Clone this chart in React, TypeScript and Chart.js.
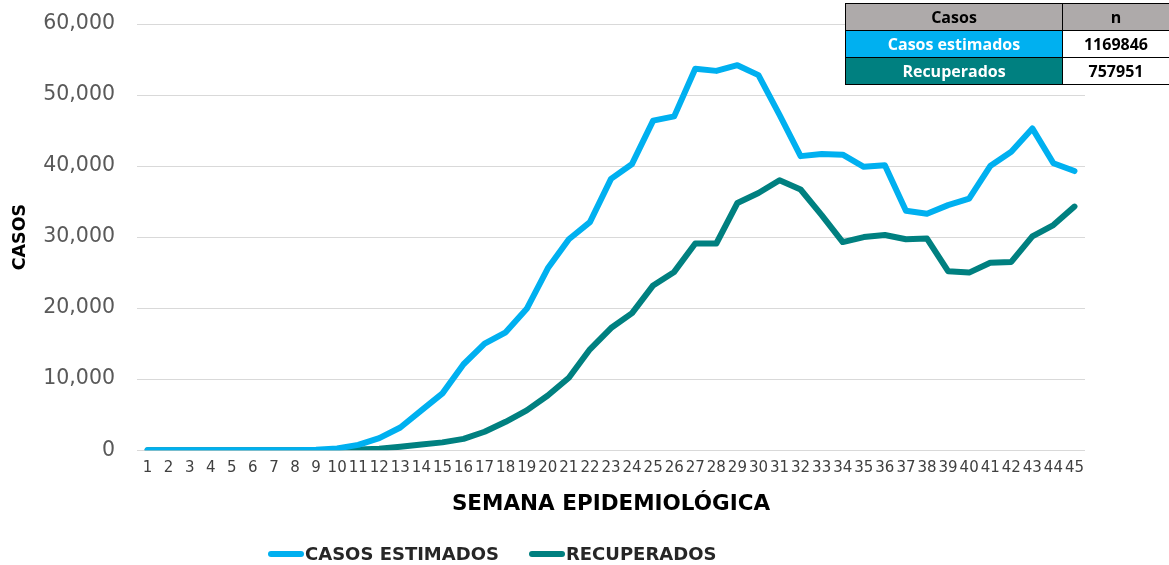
import React, { useEffect, useRef } from "react";
import { Chart, registerables } from "chart.js";

Chart.register(...registerables);

const weeks = Array.from({ length: 45 }, (_, i) => String(i + 1));
const casosEstimados = [
  0, 0, 0, 0, 0, 0, 0, 0, 50, 250, 750, 1700, 3200, 5600, 8000, 12100, 15000, 16600,
  19900, 25600, 29700, 32100, 38200, 40300, 46400, 47000, 53700, 53400, 54200, 52800,
  47200, 41400, 41700, 41600, 39900, 40100, 33700, 33300, 34500, 35400, 40000, 42000,
  45300, 40400, 39300,
];
const recuperados = [
  0, 0, 0, 0, 0, 0, 0, 0, 0, 50, 100, 200, 500, 800, 1100, 1600, 2600, 4000, 5600, 7700,
  10200, 14200, 17200, 19300, 23200, 25100, 29100, 29100, 34800, 36200, 38000, 36700,
  33100, 29300, 30000, 30300, 29700, 29800, 25200, 25000, 26400, 26500, 30100, 31700,
  34300,
];
const yTicks = [0, 10000, 20000, 30000, 40000, 50000, 60000];
const tableRows = [
  { label: "Casos estimados", n: "1169846", color: "#00B0F0" },
  { label: "Recuperados", n: "757951", color: "#008080" },
];
const seriesNames = ["CASOS ESTIMADOS", "RECUPERADOS"];
const seriesColors = ["#00B0F0", "#008080"];

export default function App() {
  const ref = useRef<HTMLCanvasElement | null>(null);
  useEffect(() => {
    document.body.style.margin = "0";
    if (!ref.current) return;
    const chart = new Chart(ref.current, {
      type: "line",
      data: {
        labels: weeks,
        datasets: [
          {
            label: seriesNames[0],
            data: casosEstimados,
            borderColor: seriesColors[0],
            backgroundColor: seriesColors[0],
            borderWidth: 6,
            pointRadius: 0,
            tension: 0,
            borderCapStyle: "round",
            borderJoinStyle: "round",
          },
          {
            label: seriesNames[1],
            data: recuperados,
            borderColor: seriesColors[1],
            backgroundColor: seriesColors[1],
            borderWidth: 6,
            pointRadius: 0,
            tension: 0,
            borderCapStyle: "round",
            borderJoinStyle: "round",
          },
        ],
      },
      options: {
        animation: false,
        responsive: false,
        maintainAspectRatio: false,
        layout: { padding: { left: 8, right: 84, top: 24, bottom: 48 } },
        plugins: {
          legend: { display: false },
          tooltip: { enabled: false },
        },
        scales: {
          x: {
            offset: true,
            grid: { display: false, drawTicks: false },
            border: { display: false },
            ticks: {
              autoSkip: false,
              maxRotation: 0,
              minRotation: 0,
              padding: 9,
              color: "#404040",
              font: { family: "DejaVu Sans", size: 15 },
            },
            title: {
              display: true,
              text: "SEMANA EPIDEMIOLÓGICA",
              color: "#000000",
              font: { family: "DejaVu Sans", size: 21.5, weight: "bold" },
              padding: { top: 5, bottom: 0 },
            },
          },
          y: {
            min: 0,
            max: 60000,
            afterFit: (s: any) => {
              s.width = 129;
              s.paddingTop = 0;
              s.paddingBottom = 0;
            },
            afterBuildTicks: (s: any) => {
              s.ticks = yTicks.map((v) => ({ value: v }));
            },
            grid: { color: "#d9d9d9", lineWidth: 1, drawTicks: false },
            border: { display: false },
            ticks: {
              padding: 22,
              color: "#595959",
              font: { family: "DejaVu Sans", size: 20.5 },
              callback: (v: any) => Number(v).toLocaleString("en-US"),
            },
            title: {
              display: true,
              text: "CASOS",
              color: "#000000",
              font: { family: "DejaVu Sans", size: 17.5, weight: "bold" },
              padding: { top: 2, bottom: 0 },
            },
          },
        },
      },
    });
    return () => chart.destroy();
  }, []);

  const cell: React.CSSProperties = {
    border: "1px solid #000",
    textAlign: "center",
    fontWeight: "bold",
    fontSize: 16,
    padding: 0,
    height: 26,
    lineHeight: "26px",
  };

  return (
    <div
      style={{
        position: "relative",
        width: 1169,
        height: 565,
        background: "#fff",
        overflow: "hidden",
        fontFamily: "DejaVu Sans",
      }}
    >
      <canvas ref={ref} width={1169} height={565} style={{ display: "block" }} />
      <table
        style={{
          position: "absolute",
          left: 845,
          top: 3,
          width: 325,
          borderCollapse: "collapse",
          fontFamily: "'Open Sans', 'Noto Sans', sans-serif",
        }}
      >
        <tbody>
          <tr>
            <td style={{ ...cell, width: 216, background: "#AEAAAA", color: "#000" }}>Casos</td>
            <td style={{ ...cell, background: "#AEAAAA", color: "#000" }}>n</td>
          </tr>
          {tableRows.map((r) => (
            <tr key={r.label}>
              <td style={{ ...cell, background: r.color, color: "#fff" }}>{r.label}</td>
              <td style={{ ...cell, background: "#fff", color: "#000" }}>{r.n}</td>
            </tr>
          ))}
        </tbody>
      </table>
      <div
        style={{
          position: "absolute",
          left: 268,
          top: 543,
          display: "flex",
          alignItems: "center",
          fontWeight: "bold",
          fontSize: 18,
          color: "#262626",
          whiteSpace: "nowrap",
        }}
      >
        {seriesNames.map((n, i) => (
          <div key={n} style={{ display: "flex", alignItems: "center", marginRight: i === 0 ? 30 : 0 }}>
            <span
              style={{
                display: "inline-block",
                width: 36,
                height: 6,
                borderRadius: 3,
                background: seriesColors[i],
                marginRight: 1,
              }}
            />
            <span>{n}</span>
          </div>
        ))}
      </div>
    </div>
  );
}
